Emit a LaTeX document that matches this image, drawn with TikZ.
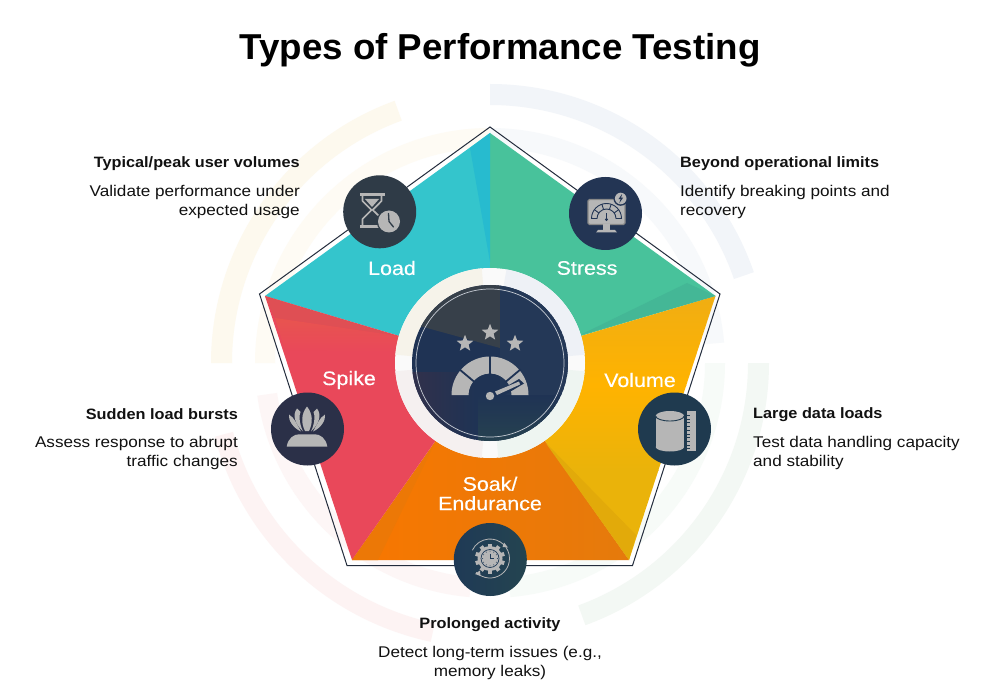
\documentclass[tikz,border=0pt]{standalone}
\usepackage{fontspec}
\setmainfont{Liberation Sans}
\newfontfamily\labfont[FakeBold=0.25,FakeStretch=1.10]{Liberation Sans}
\newfontfamily\descfont[FakeStretch=1.105]{Liberation Sans}
\newfontfamily\headfont[FakeStretch=1.085]{Liberation Sans}
\newfontfamily\titlefont[FakeStretch=1.02]{Liberation Sans}
\usetikzlibrary{shapes.geometric}
\definecolor{iconc}{HTML}{B6B6B6}
\definecolor{inkc}{HTML}{111111}
\definecolor{edgec}{HTML}{232C3C}
\definecolor{loadc}{HTML}{34C5CC}
\definecolor{stressc}{HTML}{48C29B}
\definecolor{spikec}{HTML}{E9485A}
\definecolor{discc}{HTML}{1F3354}
\tikzset{
  titletext/.style={font=\titlefont\fontsize{36}{40}\selectfont\bfseries,text=black,inner sep=0},
  headtext/.style={font=\headfont\fontsize{15}{19}\selectfont\bfseries,text=inkc,inner sep=0},
  desctext/.style={font=\descfont\fontsize{15.5}{19}\selectfont,text=inkc,inner sep=0,align=#1},
  seglabel/.style={font=\labfont\fontsize{19.5}{19.5}\selectfont,text=white,inner sep=0,align=center},
  badge/.style={circle,inner sep=0,minimum size=73pt},
  iconstar/.style={star,star points=5,star point ratio=2.3,fill=iconc,inner sep=0,minimum size=#1},
  gapline/.style={line width=1.8pt,draw=#1},
}
\newcommand\bandarc[5]{\fill[#1] (#2:#4pt) arc[start angle=#2,end angle=#3,radius=#4pt] -- (#3:#5pt) arc[start angle=#3,end angle=#2,radius=#5pt] -- cycle;}
\begin{document}
\begin{tikzpicture}[x=1pt,y=1pt,yscale=-1]
\useasboundingbox (0,0) rectangle (1000,700);
\fill[white] (0,0) rectangle (1000,700);
\coordinate (C) at (490,363);
% faint background bands
\begin{scope}[shift={(490,363)}]
\definecolor{bandyo}{HTML}{FDF9EE}
\definecolor{bandyi}{HTML}{FEFBF4}
\definecolor{bandbo}{HTML}{F2F5F9}
\definecolor{bandbi}{HTML}{F7F9FB}
\definecolor{bandgo}{HTML}{F3F8F4}
\definecolor{bandgi}{HTML}{F7FBF8}
\definecolor{bandro}{HTML}{FDF3F3}
\definecolor{bandri}{HTML}{FDF6F6}
\bandarc{bandyo}{180}{250}{258}{279}
\bandarc{bandyi}{180}{270}{215}{235}
\bandarc{bandbo}{270}{341}{258}{279}
\bandarc{bandbi}{270}{355}{215}{235}
\bandarc{bandgo}{0}{70}{258}{279}
\bandarc{bandgi}{0}{85}{215}{235}
\bandarc{bandro}{102}{165}{266}{285}
\bandarc{bandri}{95}{172}{215}{235}
\end{scope}
% pentagon outline
\draw[edgec,line width=1pt,line join=miter] (490,127) -- (720,294) -- (632.5,565.5) -- (347,565.5) -- (259.5,294) -- cycle;
% segments
\coordinate (T) at (490,133);
\coordinate (R) at (715.5,296);
\coordinate (BR) at (629,560);
\coordinate (BL) at (352,560);
\coordinate (L) at (265,296);
\fill[loadc] (T) -- (L) -- (C) -- cycle;
\fill[stressc] (T) -- (R) -- (C) -- cycle;
\definecolor{volA}{HTML}{EFAD14}
\definecolor{volB}{HTML}{FFB300}
\definecolor{volC}{HTML}{EAB30A}
\begin{scope}
\clip (R) -- (C) -- (BR) -- cycle;
\shade[top color=volA,bottom color=volB] (480,290) rectangle (725,385);
\shade[top color=volB,bottom color=volC] (480,385) rectangle (725,470);
\fill[volC] (480,470) rectangle (725,565);
\end{scope}
\definecolor{soakA}{HTML}{F87700}
\definecolor{soakB}{HTML}{E57A0C}
\shade[left color=soakA,right color=soakB] (C) -- (BR) -- (BL) -- cycle;
\fill[spikec] (C) -- (BL) -- (L) -- cycle;
% tonal wedges
\definecolor{wedgeL}{HTML}{27BBCF}
\fill[wedgeL] (T) -- (470,148) -- (490,262) -- cycle;
\definecolor{wedgeS}{HTML}{44B796}
\fill[wedgeS] (R) -- (687,283) -- (580,335) -- cycle;
\definecolor{wedgeV}{HTML}{E2AA0A}
\fill[wedgeV] (545,442) -- (636,535) -- (BR) -- cycle;
\definecolor{wedgeO}{HTML}{EC7806}
\fill[wedgeO] (435,443) -- (BL) -- (378,560) -- cycle;
\definecolor{wedgeR}{HTML}{DF4F54}
\fill[wedgeR] (L) -- (398,336) -- (275,318) -- cycle;
\definecolor{spikeL}{HTML}{E8544F}
\shade[top color=spikeL,bottom color=spikec] (275,318) -- (398,336) -- (396,352) -- (285,350) -- cycle;
% central ring
\fill[white!96!gray] (C) circle[radius=95pt];
\begin{scope}[shift={(490,363)}]
\definecolor{ringy}{HTML}{F6F3EA}
\definecolor{ringb}{HTML}{EEF1F6}
\definecolor{ringg}{HTML}{EEF5F1}
\definecolor{ringr}{HTML}{F5F0F0}
\bandarc{ringy}{185}{265}{76}{95}
\bandarc{ringb}{280}{355}{76}{95}
\bandarc{ringg}{5}{85}{76}{95}
\bandarc{ringr}{95}{175}{76}{95}
\end{scope}
\begin{scope}
\clip (C) circle[radius=78pt];
\fill[discc] (C) circle[radius=78pt];
\definecolor{tinty}{HTML}{37404A}
\definecolor{tintr}{HTML}{33304A}
\definecolor{tintg}{HTML}{274350}
\definecolor{tintb}{HTML}{243857}
\fill[tinty] (405,322) -- (500,348) -- (500,280) -- (405,280) -- cycle;
\fill[tintb] (500,280) rectangle (570,395);
\shade[left color=tintr,right color=discc] (405,372) rectangle (475,445);
\shade[top color=discc,bottom color=tintg] (478,395) rectangle (570,445);
\end{scope}
\draw[white!75!discc,line width=0.7pt] (C) circle[radius=74pt];
% centre icon
\node[iconstar=17.5pt] (st1) at (490,332.5) {};
\node[iconstar=17.5pt] (st2) at (465,343.5) {};
\node[iconstar=17.5pt] (st3) at (515,343.5) {};
\begin{scope}[shift={(490,395)}]
\fill[iconc] (180:38.5pt) arc[start angle=180,end angle=360,radius=38.5pt] -- (0:21.5pt) arc[start angle=360,end angle=180,radius=21.5pt] -- cycle;
\draw[gapline=discc] (270:20pt) -- (270:40pt);
\draw[gapline=discc] (220:20pt) -- (220:40pt);
\draw[gapline=discc] (320:20pt) -- (320:40pt);
\end{scope}
\fill[discc] (494,394) -- (519,379) -- (524,383.5) -- (503,396) -- cycle;
\fill[iconc] (495,391.5) -- (519,381.5) -- (520,384.5) -- (497,395) -- cycle;
\fill[iconc] (490,396) circle[radius=4.2pt];
% badges
\definecolor{bLoad}{HTML}{2F3B47}
\definecolor{bStress}{HTML}{233554}
\definecolor{bSpike}{HTML}{2B3048}
\definecolor{bVol}{HTML}{1F3A4F}
\definecolor{bSoakA}{HTML}{1F3A56}
\definecolor{bSoakB}{HTML}{244450}
\node[badge,fill=bLoad] (bl) at (379.7,211.8) {};
\node[badge,fill=bStress] (bs) at (605.5,213.5) {};
\node[badge,fill=bSpike] (bp) at (307.5,429) {};
\node[badge,fill=bVol] (bv) at (674.5,429) {};
\node[badge,left color=bSoakA,right color=bSoakB] (bk) at (490.3,559.5) {};
% load icon: hourglass + clock
\fill[iconc] (360,193) rectangle (384.5,195.6);
\fill[iconc] (360,225) rectangle (379,227.6);
\draw[iconc,line width=1.7pt,line join=round] (362.5,195) -- (362.5,201) -- (371.5,210) -- (362.5,219) -- (362.5,226);
\draw[iconc,line width=1.7pt,line join=round] (381.5,195) -- (381.5,201) -- (372.7,210) -- (379,216);
\fill[iconc] (365,199) -- (379,199) -- (372,207) -- cycle;
\fill[bLoad] (389,221.5) circle[radius=12.3pt];
\fill[iconc] (389,221.5) circle[radius=11pt];
\draw[bLoad,line width=1.3pt,line cap=round,line join=round] (388.5,213.5) -- (389,221.5) -- (393.5,227);
% stress icon: monitor
\draw[iconc!75!black,line width=1.2pt,fill=iconc,rounded corners=1.5pt] (588,199.5) rectangle (625,224.5);
\fill[iconc] (603,224.5) rectangle (610,230);
\fill[iconc] (598,230) -- (615,230) -- (617,232.5) -- (596,232.5) -- cycle;
\begin{scope}[shift={(606.5,218.5)}]
\draw[bStress,line width=0.9pt] (180:15pt) arc[start angle=180,end angle=360,radius=15pt] -- (0:9.5pt) arc[start angle=360,end angle=180,radius=9.5pt] -- cycle;
\foreach \a in {216,252,288,324}{\draw[bStress,line width=0.9pt] (\a:9.5pt) -- (\a:15pt);}
\fill[bStress] (0,1) circle[radius=1.6pt];
\draw[bStress,line width=0.9pt] (0,0) -- (0,-5);
\end{scope}
\fill[bStress] (620.7,198.5) circle[radius=7.3pt];
\fill[iconc] (620.7,198.5) circle[radius=5.8pt];
\fill[bStress] (622.2,193.8) -- (618.4,199.2) -- (620.6,199.2) -- (619.2,203.2) -- (623.2,197.6) -- (621,197.6) -- cycle;
% spike icon
\fill[iconc] (286.7,446.7) .. controls (288,438) and (294,434.3) .. (299,434.3) -- (315,434.3) .. controls (320,434.3) and (326,438) .. (327.3,446.7) -- cycle;
\fill[iconc] (307,406.5) .. controls (301,414) and (301,423) .. (305,431) .. controls (307,431.5) and (307,431.5) .. (309,431) .. controls (313,423) and (313,414) .. (307,406.5) -- cycle;
\fill[iconc] (297,408.5) .. controls (292,415) and (295,424) .. (303,431.5) .. controls (299,423) and (299,415) .. (300.5,412) -- cycle;
\fill[iconc] (317,408.5) .. controls (322,415) and (319,424) .. (311,431.5) .. controls (315,423) and (315,415) .. (313.5,412) -- cycle;
\fill[iconc] (289,414.5) .. controls (288,420) and (293,428) .. (301,431.5) .. controls (297,425) and (295,418) .. (289,414.5) -- cycle;
\fill[iconc] (325,414.5) .. controls (326,420) and (321,428) .. (313,431.5) .. controls (317,425) and (319,418) .. (325,414.5) -- cycle;
% volume icon
\fill[iconc] (655.7,416) rectangle (684.1,447);
\fill[iconc] (669.9,447) ellipse[x radius=14.2pt,y radius=4.5pt];
\fill[iconc] (669.9,416) ellipse[x radius=14.2pt,y radius=5pt];
\draw[bVol,line width=0.9pt] (655.7,416) arc[start angle=180,end angle=360,x radius=14.2pt,y radius=-5pt];
\fill[iconc] (686.8,411) rectangle (696,451);
\foreach \t in {415,418.7,...,449}{\fill[bVol] (686.8,\t) rectangle (689.5,\t+1);}
% soak icon
\begin{scope}[shift={(490,558.5)}]
\draw[iconc,line width=0.8pt] (-155:19.5pt) arc[start angle=-155,end angle=-45,radius=19.5pt];
\draw[iconc,line width=0.8pt] (-35:19.5pt) arc[start angle=-35,end angle=135,radius=19.5pt];
\fill[iconc] (14,-16) -- (18,-11) -- (12.5,-11.5) -- cycle;
\fill[iconc] (-15,15.5) -- (-10,12) -- (-9.5,17.5) -- cycle;
\foreach \a in {0,36,...,324}{\fill[iconc,rotate=\a] (-2,-15) rectangle (2,-11);}
\fill[iconc] (0,0) circle[radius=12.5pt];
\draw[bSoakA,line width=0.7pt] (0,0) circle[radius=9pt];
\foreach \a in {0,30,...,330}{\fill[bSoakA] (\a:7.4pt) circle[radius=0.5pt];}
\draw[bSoakA,line width=0.7pt] (0,-5) -- (0,0) -- (3.8,0);
\end{scope}
% segment labels
\node[seglabel] (tload) at (392,268) {Load};
\node[seglabel] (tstress) at (587,268) {Stress};
\node[seglabel] (tspike) at (349,380) {Spike};
\node[seglabel] (tvol) at (640,380) {Volume};
\node[seglabel] (tsoak) at (490,493.5) {Soak/\\Endurance};
% title
\node[titletext] (title) at (500,50.5) {Types of Performance Testing};
% captions
\node[headtext,anchor=east] (h1) at (300,163.5) {Typical/peak user volumes};
\node[desctext=right,anchor=east] (d1) at (300,202) {Validate performance under\\expected usage};
\node[headtext,anchor=west] (h2) at (680,163.5) {Beyond operational limits};
\node[desctext=left,anchor=west] (d2) at (680,202) {Identify breaking points and\\recovery};
\node[headtext,anchor=east] (h3) at (238,414.5) {Sudden load bursts};
\node[desctext=right,anchor=east] (d3) at (238,453) {Assess response to abrupt\\traffic changes};
\node[headtext,anchor=west] (h4) at (753,414.5) {Large data loads};
\node[desctext=left,anchor=west] (d4) at (753,453) {Test data handling capacity\\and stability};
\node[headtext] (h5) at (490,624.5) {Prolonged activity};
\node[desctext=center] (d5) at (490,663) {Detect long-term issues (e.g.,\\memory leaks)};
\end{tikzpicture}
\end{document}
